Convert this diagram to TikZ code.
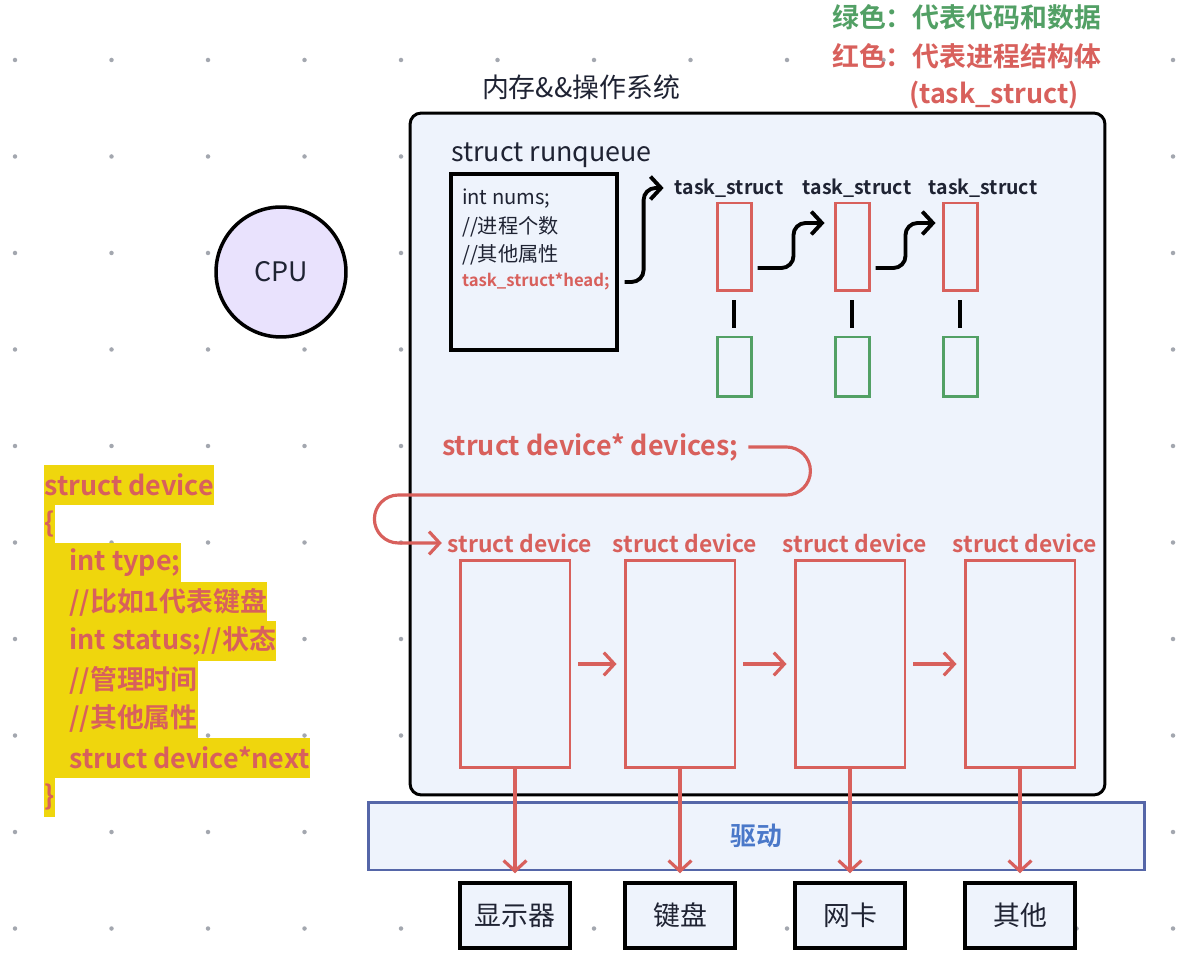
\documentclass[tikz,border=0pt]{standalone}
\usepackage{fontspec}
\setmainfont{Noto Sans CJK SC}[BoldFont=Noto Sans CJK SC Bold]
\usetikzlibrary{arrows.meta,positioning}
\definecolor{devred}{HTML}{D8605C}
\definecolor{codegreen}{HTML}{52A065}
\definecolor{osfill}{HTML}{EEF3FC}
\definecolor{drvblue}{HTML}{5566A8}
\definecolor{drvtext}{HTML}{4A78C9}
\definecolor{hlyellow}{HTML}{EFD60D}
\definecolor{cpufill}{HTML}{E9E2FD}
\definecolor{inkdark}{HTML}{1F2333}
\definecolor{dotgrey}{HTML}{A3A7AF}
\newcommand{\fsbig}{\fontsize{15.3pt}{18pt}\selectfont}
\newcommand{\fsmid}{\fontsize{13pt}{15pt}\selectfont}
\newcommand{\fssmall}{\fontsize{11.5pt}{14pt}\selectfont}

\begin{document}
\begin{tikzpicture}[x=0.02cm,y=-0.02cm,
  every node/.style={text=inkdark},
  bigtxt/.style={font=\fsbig},
  legend/.style={font=\fsbig\bfseries,anchor=west},
  osbox/.style={draw=black,line width=1.7pt,rounded corners=0.22cm,fill=osfill},
  blkbox/.style={draw=black,line width=2pt,fill=osfill,inner sep=0pt},
  rqtxt/.style={font=\fssmall,anchor=west,inner sep=1pt},
  tslab/.style={font=\fontsize{11.1pt}{13pt}\selectfont\bfseries},
  taskbox/.style={draw=devred,line width=1.7pt,minimum width=0.68cm,minimum height=1.76cm,inner sep=0pt},
  databox/.style={draw=codegreen,line width=1.7pt,minimum width=0.68cm,minimum height=1.2cm,inner sep=0pt},
  tick/.style={line width=1.8pt,shorten <=0.16cm,shorten >=0.16cm},
  devbox/.style={draw=devred,line width=1.7pt,minimum width=2.2cm,minimum height=4.16cm,inner sep=0pt},
  devlab/.style={font=\fsmid\bfseries,text=devred},
  drvbox/.style={draw=drvblue,line width=1.7pt,fill=osfill,minimum width=15.54cm,minimum height=1.36cm,font=\fontsize{14.7pt}{17pt}\selectfont\bfseries,text=drvtext},
  hwbox/.style={blkbox,minimum width=2.2cm,minimum height=1.3cm,font=\fsbig},
  cpu/.style={circle,draw=black,line width=2pt,fill=cpufill,minimum size=2.6cm,font=\fsbig},
  codeline/.style={fill=hlyellow,text=devred,font=\fsbig\bfseries,anchor=west,inner xsep=0pt,inner ysep=0pt,minimum height=0.8cm},
  link/.style={line width=2.2pt,-{Straight Barb[length=6pt,width=13pt]}},
  redlink/.style={link,draw=devred,line width=1.8pt}]
\fill[white] (0,0) rectangle (1186,962);
\useasboundingbox (0,0) rectangle (1186,962);
% dot grid of the canvas
\foreach \i in {0,...,12}
  \foreach \j in {0,...,9}
    \fill[dotgrey] ({15+96.5*\i},{60+96.5*\j}) circle[radius=0.045cm];

% legend
\node[legend,text=codegreen] (lgreen) at (826,17) {绿色：代表代码和数据};
\node[legend,text=devred] (lred) at (826,56) {红色：代表进程结构体};
\node[legend,text=devred] (lred2) at (903,95) {(task\_struct)};

% memory and OS
\node[bigtxt] (memlab) at (581,87) {内存\&\&操作系统};
\node[osbox,minimum width=13.9cm,minimum height=13.64cm] (os) at (757.5,454) {};

% runqueue
\node[bigtxt,anchor=west] (rqlab) at (445,155) {struct runqueue};
\node[blkbox,minimum width=3.32cm,minimum height=3.52cm] (rq) at (534,262) {};
\node[rqtxt] (rq1) at (460,199) {int nums;};
\node[rqtxt] (rq2) at (460,227) {//进程个数};
\node[rqtxt] (rq3) at (460,255) {//其他属性};
\node[rqtxt,text=devred,font=\fontsize{9.5pt}{12pt}\selectfont\bfseries] (rqhead) at (460,282) {task\_struct*head;};

% task_struct list with code and data
\foreach \n/\x in {1/734,2/852,3/960} {
  \node[taskbox] (ts\n) at (\x,247) {};
  \node[databox] (gr\n) at (\x,367) {};
  \draw[tick] (ts\n) -- (gr\n);
}
\node[tslab] (tslab1) at (729,188) {task\_struct};
\node[tslab] (tslab2) at (857,188) {task\_struct};
\node[tslab] (tslab3) at (983,188) {task\_struct};
\coordinate (rqturn) at ([xshift=-0.5cm]tslab1.west);
\draw[link,rounded corners=0.24cm] ([xshift=0.26cm]rqhead.east) -| (rqturn) -- ([xshift=-0.1cm]tslab1.west);
\draw[link,rounded corners=0.24cm] ([xshift=0.1cm,yshift=-0.42cm]ts1.east) -- ++(36,0) |- ([xshift=-0.18cm,yshift=0.48cm]ts2.west);
\draw[link,rounded corners=0.24cm] ([xshift=0.1cm,yshift=-0.42cm]ts2.east) -- ++(30,0) |- ([xshift=-0.12cm,yshift=0.48cm]ts3.west);

% devices
\node[devlab,font=\fsbig\bfseries,anchor=west] (devptr) at (436,447) {struct device* devices;};
\foreach \n/\x in {1/515,2/680,3/850,4/1020} {
  \node[devbox] (dev\n) at (\x,664) {};
  \node[devlab] (devlab\n) at ({\x+5},543) {struct device};
}
\draw[redlink,rounded corners=0.48cm] ([xshift=0.08cm]devptr.east) -| ++(62,48) -- ++(-436,0) |- (devlab1.west);
\foreach \a/\b in {1/2,2/3,3/4}
  \draw[redlink,shorten <=0.14cm,shorten >=0.14cm] (dev\a) -- (dev\b);

% driver and hardware
\node[drvbox] (drv) at (756.5,836) {驱动};
\node[hwbox] (out1) at (515,915.5) {显示器};
\node[hwbox] (out2) at (680,915.5) {键盘};
\node[hwbox] (out3) at (850,915.5) {网卡};
\node[hwbox] (out4) at (1020,915.5) {其他};
\foreach \n in {1,...,4}
  \draw[redlink,shorten >=0.16cm] (dev\n) -- (out\n);

% cpu
\node[cpu] (cpu) at (281,272) {CPU};

% struct device code
\node[codeline] (code1) at (44,485) {struct device};
\node[codeline] (code2) at (44,524) {\{};
\node[codeline] (code3) at (44,563) {\hspace*{0.5cm}int type;};
\node[codeline] (code4) at (44,602) {\hspace*{0.5cm}//比如1代表键盘};
\node[codeline] (code5) at (44,641) {\hspace*{0.5cm}int status;//状态};
\node[codeline] (code6) at (44,680) {\hspace*{0.5cm}//管理时间};
\node[codeline] (code7) at (44,719) {\hspace*{0.5cm}//其他属性};
\node[codeline] (code8) at (44,758) {\hspace*{0.5cm}struct device*next};
\node[codeline] (code9) at (44,797) {\}};
\end{tikzpicture}
\end{document}
